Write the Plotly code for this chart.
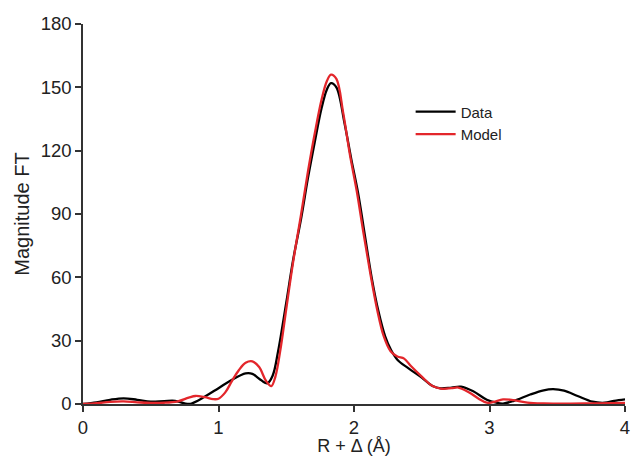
import plotly.graph_objects as go

# Fourier-transform magnitude versus R + delta (Angstrom)
r_data = [0.00, 0.10, 0.20, 0.30, 0.40, 0.50, 0.60, 0.68, 0.75, 0.80, 0.90, 1.00,
          1.10, 1.20, 1.25, 1.30, 1.36, 1.40, 1.44, 1.50, 1.55, 1.61, 1.66, 1.71,
          1.76, 1.80, 1.83, 1.87, 1.93, 1.98, 2.03, 2.08, 2.13, 2.18, 2.23, 2.27,
          2.32, 2.40, 2.50, 2.58, 2.64, 2.72, 2.79, 2.88, 2.98, 3.05, 3.10, 3.18,
          3.30, 3.40, 3.47, 3.55, 3.65, 3.76, 3.85, 3.92, 4.00]
ft_data = [0.0, 0.8, 2.0, 2.7, 2.0, 1.1, 1.4, 1.5, 0.3, 0.2, 3.5, 7.5,
           11.5, 14.5, 14.3, 12.0, 9.8, 13.5, 25.0, 48.0, 68.0, 88.0, 107.0, 124.0,
           140.0, 149.0, 152.0, 150.0, 133.0, 116.0, 100.0, 80.0, 60.0, 44.0, 32.0, 26.0,
           21.0, 17.0, 12.5, 8.5, 7.4, 7.8, 8.2, 6.0, 2.0, 0.6, 0.2, 1.5,
           4.5, 6.5, 7.0, 6.3, 3.8, 1.1, 0.6, 1.5, 2.2]

r_model = [0.00, 0.10, 0.20, 0.30, 0.40, 0.50, 0.60, 0.70, 0.78, 0.83, 0.90, 0.96,
           1.00, 1.05, 1.10, 1.15, 1.20, 1.25, 1.30, 1.35, 1.39, 1.42, 1.46, 1.50,
           1.55, 1.61, 1.66, 1.71, 1.76, 1.80, 1.83, 1.87, 1.92, 1.97, 2.02, 2.07,
           2.12, 2.17, 2.22, 2.27, 2.32, 2.37, 2.42, 2.50, 2.58, 2.65, 2.72, 2.77,
           2.85, 2.92, 2.98, 3.03, 3.10, 3.18, 3.28, 3.40, 3.60, 3.80, 4.00]
ft_model = [0.0, 0.4, 1.0, 1.2, 0.8, 0.5, 0.6, 1.3, 3.0, 3.8, 3.2, 2.3,
            2.5, 5.5, 11.0, 16.0, 19.5, 20.2, 17.5, 11.0, 8.5, 13.0, 27.0, 45.0,
            67.0, 90.0, 110.0, 128.0, 144.0, 153.0, 156.0, 154.0, 138.0, 118.0, 101.0, 81.0,
            62.0, 45.0, 32.0, 25.0, 22.5, 21.5, 18.0, 13.0, 8.5, 7.2, 7.5, 7.8,
            5.5, 2.5, 0.6, 1.0, 2.2, 1.8, 0.7, 0.3, 0.2, 0.3, 0.5]

x_ticks = [0, 1, 2, 3, 4]
y_ticks = [0, 30, 60, 90, 120, 150, 180]

font_family = "Liberation Sans, Arial, sans-serif"

fig = go.Figure()
fig.add_trace(go.Scatter(
    x=r_data, y=ft_data, name="Data", mode="lines",
    line=dict(color="#000000", width=2.3, shape="spline", smoothing=1.0),
))
fig.add_trace(go.Scatter(
    x=r_model, y=ft_model, name="Model", mode="lines",
    line=dict(color="#e3262b", width=2.3, shape="spline", smoothing=1.0),
))

axis_common = dict(
    showline=True, linecolor="#333333", linewidth=1.5,
    ticks="outside", ticklen=6, tickwidth=1.5, tickcolor="#333333",
    showgrid=False, zeroline=False, automargin=False,
    tickfont=dict(family=font_family, size=18.5, color="#222222"),
    ticklabeloverflow="allow",
)

fig.update_layout(
    width=632, height=456,
    margin=dict(l=83, r=7, t=24, b=52),
    paper_bgcolor="white", plot_bgcolor="white",
    font=dict(family=font_family, color="#222222"),
    xaxis=dict(
        range=[0, 4], tickvals=x_ticks, ticktext=[str(v) for v in x_ticks],
        title=dict(text="R + Δ (Å)", font=dict(family=font_family, size=18), standoff=4),
        **axis_common,
    ),
    yaxis=dict(
        range=[0, 180], tickvals=y_ticks, ticktext=[str(v) for v in y_ticks],
        title=dict(text="Magnitude FT", font=dict(family=font_family, size=20), standoff=6),
        **axis_common,
    ),
    legend=dict(
        x=0.6045, y=0.812, xanchor="left", yanchor="top",
        bgcolor="rgba(0,0,0,0)", borderwidth=0,
        font=dict(family=font_family, size=15, color="#222222"),
        itemwidth=40, tracegroupgap=0,
    ),
    showlegend=True,
)

fig.write_html("out.html")
